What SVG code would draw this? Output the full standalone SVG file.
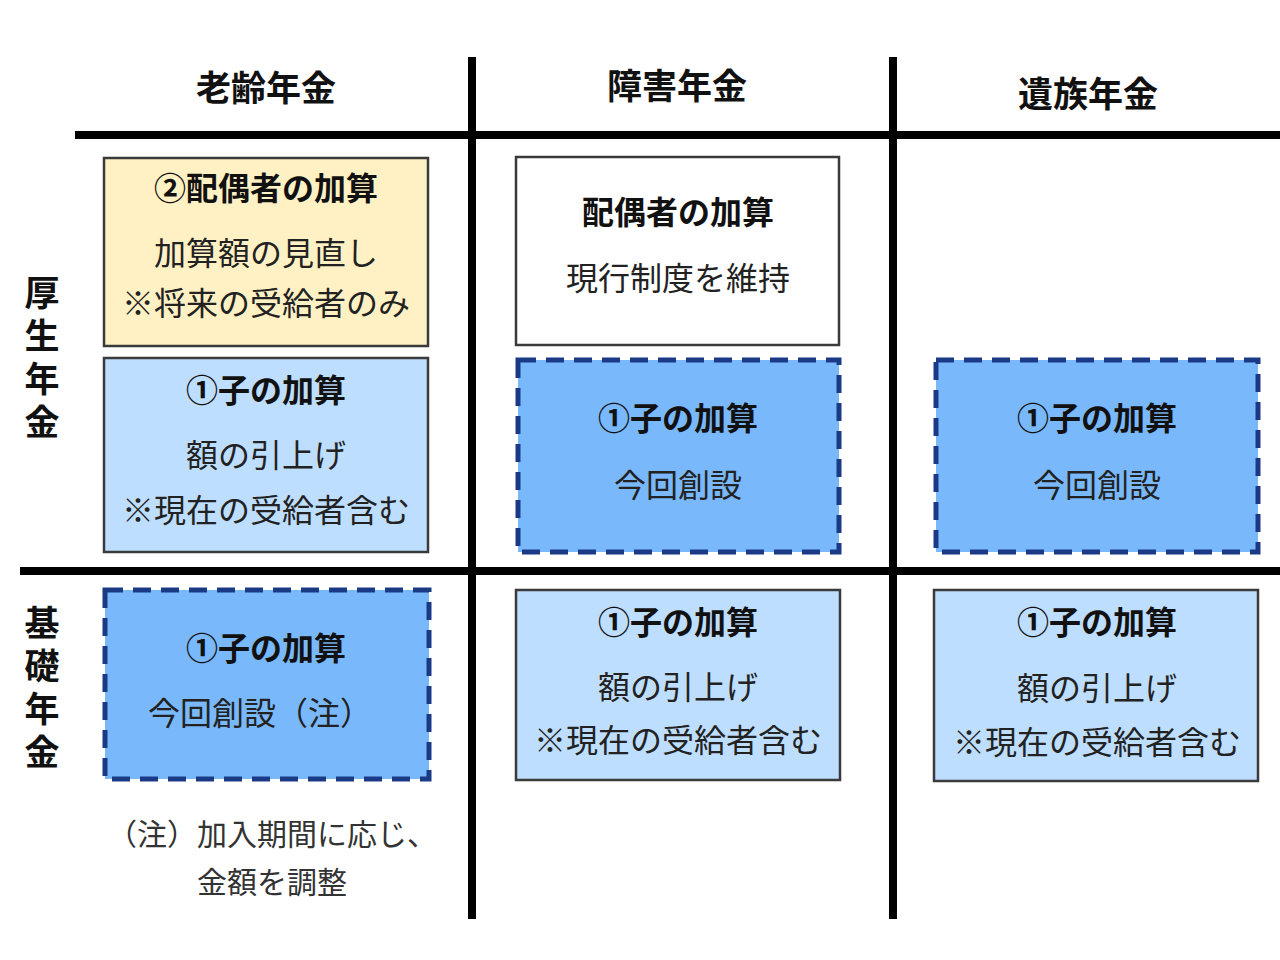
<svg xmlns="http://www.w3.org/2000/svg" width="1280" height="960" viewBox="0 0 1280 960">
<style>
text{font-family:"Noto Sans CJK JP","Noto Sans",sans-serif;fill:#1a1a1a;text-anchor:middle}
.h{font-size:35px;font-weight:700;fill:#111}
.v{font-size:35px;font-weight:700;fill:#111;writing-mode:vertical-rl;text-anchor:start;letter-spacing:8px}
.t{font-size:32px;font-weight:700;fill:#111}
.b{font-size:32px;font-weight:400;fill:#222}
.n{font-size:30px;font-weight:400;fill:#333}
.solid{stroke:#3a3a3a;stroke-width:2.5}
.dash{fill:#79B8FB;stroke:#1B3A86;stroke-width:5;stroke-dasharray:18 10}
.yel{fill:#FFF1C4}
.lb{fill:#BEDEFF}
.wh{fill:#ffffff}
.grid{stroke:#000;stroke-width:8}
</style>
<rect width="1280" height="960" fill="#fff"/>
<g id="grid">
<line class="grid" x1="75" y1="135" x2="1280" y2="135"/>
<line class="grid" x1="20" y1="571" x2="1280" y2="571"/>
<line class="grid" x1="472" y1="57" x2="472" y2="919"/>
<line class="grid" x1="893" y1="57" x2="893" y2="919"/>
</g>
<g id="headers">
<text class="h" x="266" y="101">老齢年金</text>
<text class="h" x="677" y="99">障害年金</text>
<text class="h" x="1088" y="107">遺族年金</text>
</g>
<g id="row-kosei">
<text class="v" x="42" y="275">厚生年金</text>
</g>
<g id="row-kiso">
<text class="v" x="42" y="605">基礎年金</text>
</g>
<g id="node-rorei-haigu">
<rect class="yel solid" x="104" y="158" width="324" height="188"/>
<text class="t" x="266" y="200">②配偶者の加算</text>
<text class="b" x="266" y="265">加算額の見直し</text>
<text class="b" x="266" y="315">※将来の受給者のみ</text>
</g>
<g id="node-rorei-ko">
<rect class="lb solid" x="104" y="358" width="324" height="194"/>
<text class="t" x="266" y="402">①子の加算</text>
<text class="b" x="266" y="467">額の引上げ</text>
<text class="b" x="266" y="522">※現在の受給者含む</text>
</g>
<g id="node-shogai-haigu">
<rect class="wh solid" x="516" y="157" width="323" height="188"/>
<text class="t" x="678" y="224">配偶者の加算</text>
<text class="b" x="678" y="290">現行制度を維持</text>
</g>
<g id="node-shogai-ko">
<rect class="dash" x="518" y="360" width="321" height="192"/>
<text class="t" x="678" y="430">①子の加算</text>
<text class="b" x="678" y="497">今回創設</text>
</g>
<g id="node-izoku-ko">
<rect class="dash" x="936" y="360" width="322" height="192"/>
<text class="t" x="1097" y="430">①子の加算</text>
<text class="b" x="1097" y="497">今回創設</text>
</g>
<g id="node-kiso-rorei-ko">
<rect class="dash" x="105" y="590" width="324" height="189"/>
<text class="t" x="266" y="660">①子の加算</text>
<text class="b" x="260" y="725">今回創設（注）</text>
</g>
<g id="node-kiso-shogai-ko">
<rect class="lb solid" x="516" y="590" width="324" height="190"/>
<text class="t" x="678" y="634">①子の加算</text>
<text class="b" x="678" y="699">額の引上げ</text>
<text class="b" x="678" y="752">※現在の受給者含む</text>
</g>
<g id="node-kiso-izoku-ko">
<rect class="lb solid" x="934" y="590" width="324" height="191"/>
<text class="t" x="1097" y="634">①子の加算</text>
<text class="b" x="1097" y="700">額の引上げ</text>
<text class="b" x="1097" y="754">※現在の受給者含む</text>
</g>
<g id="note">
<text class="n" x="272" y="845">（注）加入期間に応じ、</text>
<text class="n" x="272" y="893">金額を調整</text>
</g>
</svg>
